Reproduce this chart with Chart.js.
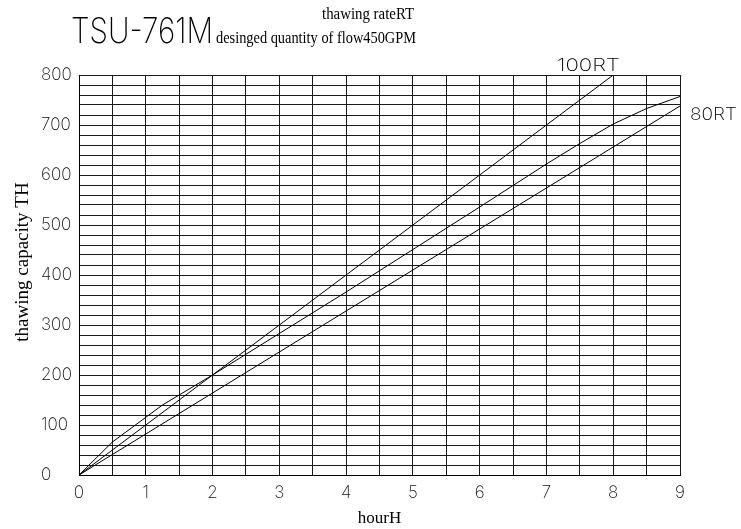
<!DOCTYPE html>
<html>
<head>
<meta charset="utf-8">
<script src="https://cdn.jsdelivr.net/npm/chart.js@4/dist/chart.umd.min.js"></script>
<style>
  body { margin: 0; background: #fff; }
  #wrap { width: 741px; height: 529px; }
</style>
</head>
<body>
<div id="wrap"><canvas id="grafico" width="741" height="529"></canvas></div>
<script>
// valores (horas / capacidade TH)
const horas100 = [0, 1, 2, 3, 4, 5, 6, 7, 8];
const cap100 = [0, 100, 200, 300, 400, 500, 600, 700, 800];

const horasMeio = [0, 0.5, 1.25, 2, 3, 4, 5, 6, 7, 7.5, 8, 8.5, 9];
const capMeio = [0, 66, 140, 200, 283, 366, 451, 536, 622, 663, 702, 733, 757];

const horas80 = [0, 1, 2, 3, 4, 5, 6, 7, 8, 9];
const cap80 = [0, 82, 164, 246, 328, 410, 492, 574, 656, 738];

const fonteCad = 'Inter';
const fonteSerif = '"Liberation Serif", "Times New Roman", serif';

function pontos(xs, ys) {
    return xs.map((x, i) => ({ x: x, y: ys[i] }));
}

// texto esticado para caber numa largura
function textoAjustado(ctx, texto, x, y, largura, fonte) {
    ctx.save();
    ctx.font = fonte;
    const w = ctx.measureText(texto).width;
    ctx.translate(x, y);
    ctx.scale(largura / w, 1);
    ctx.textAlign = 'left';
    ctx.textBaseline = 'alphabetic';
    ctx.fillText(texto, 0, 0);
    ctx.restore();
}

const textos = {
    id: 'textos',
    afterDraw(chart) {
        const ctx = chart.ctx;
        ctx.save();
        ctx.fillStyle = '#000';
        textoAjustado(ctx, 'TSU-761M', 71, 43, 142, '200 35px ' + fonteCad);
        textoAjustado(ctx, '100RT', 557, 71, 63, '200 17px ' + fonteCad);
        textoAjustado(ctx, '80RT', 690, 120, 47, '200 17px ' + fonteCad);

        textoAjustado(ctx, 'thawing rateRT', 322, 19, 92, '16px ' + fonteSerif);
        textoAjustado(ctx, 'desinged quantity of flow450GPM', 216, 43, 200, '17px ' + fonteSerif);

        ctx.font = '19px ' + fonteSerif;
        ctx.translate(23, 262);
        ctx.rotate(-Math.PI / 2);
        ctx.textAlign = 'center';
        ctx.textBaseline = 'middle';
        ctx.fillText('thawing capacity TH', 0, 0);
        ctx.restore();
    }
};

const estiloLinha = { borderColor: '#000', borderWidth: 1, pointRadius: 0, fill: false, tension: 0 };

new Chart(document.getElementById('grafico').getContext('2d'), {
    type: 'line',
    data: {
        datasets: [
            Object.assign({ label: '100RT', data: pontos(horas100, cap100) }, estiloLinha),
            Object.assign({ label: 'mid', data: pontos(horasMeio, capMeio) }, estiloLinha),
            Object.assign({ label: '80RT', data: pontos(horas80, cap80) }, estiloLinha)
        ]
    },
    options: {
        responsive: false,
        animation: false,
        events: [],
        layout: { padding: { left: 41, right: 61, top: 75, bottom: 0 } },
        plugins: { legend: { display: false }, tooltip: { enabled: false } },
        scales: {
            x: {
                type: 'linear',
                min: 0,
                max: 9,
                afterFit: s => { s.height = 54; },
                border: { color: '#000', width: 1 },
                grid: { color: '#1a1a1a', lineWidth: 1, drawTicks: false },
                ticks: {
                    stepSize: 0.5,
                    autoSkip: false,
                    maxRotation: 0,
                    padding: 8,
                    color: '#111',
                    font: { family: fonteCad, size: 17, weight: 200 },
                    callback: v => Number.isInteger(v) ? v : ''
                },
                title: {
                    display: true,
                    text: 'hourH',
                    color: '#000',
                    font: { family: fonteSerif, size: 17 },
                    padding: { top: 3, bottom: 0 }
                }
            },
            y: {
                min: 0,
                max: 800,
                afterFit: s => { s.width = 38; },
                border: { color: '#000', width: 1 },
                grid: { color: '#1a1a1a', lineWidth: 1, drawTicks: false },
                ticks: {
                    stepSize: 20,
                    autoSkip: false,
                    crossAlign: 'far',
                    color: '#111',
                    font: { family: fonteCad, size: 17, weight: 200 },
                    callback: v => v % 100 === 0 ? v : ''
                }
            }
        }
    },
    plugins: [textos]
});
</script>
</body>
</html>
